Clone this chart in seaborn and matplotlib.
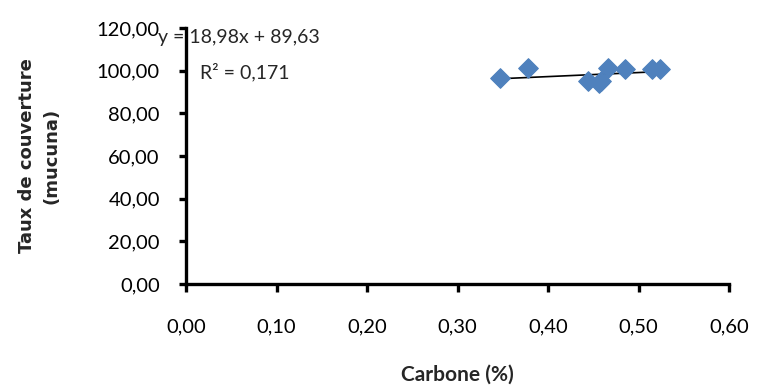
import numpy as np
import pandas as pd
import seaborn as sns
import matplotlib.pyplot as plt
from matplotlib.ticker import FuncFormatter, MultipleLocator

# Data
carbone = [0.347, 0.378, 0.444, 0.456, 0.458, 0.466, 0.485, 0.515, 0.524]
taux = [96.4, 101.4, 95.2, 94.0, 95.0, 101.4, 100.8, 101.0, 101.0]
slope = 18.98
intercept = 89.63
r2 = 0.171

df = pd.DataFrame({"Carbone": carbone, "Taux": taux})

sns.set_style("white")
plt.rcParams['font.family'] = ['Lato', 'DejaVu Sans']

fig = plt.figure(figsize=(7.57, 3.89), dpi=100)
ax = fig.add_axes([0.246, 0.270, 0.717, 0.658])

sns.scatterplot(data=df, x="Carbone", y="Taux", marker="D", s=100,
                color="#4F81BD", edgecolor="#4F81BD", ax=ax, zorder=3)

# trend line from the equation shown
trend = pd.DataFrame({"x": [min(carbone), max(carbone)]})
trend["y"] = intercept + slope * trend["x"]
sns.lineplot(data=trend, x="x", y="y", color="black", linewidth=1.2, ax=ax, zorder=2)

ax.set_xlim(0, 0.6)
ax.set_ylim(0, 120)
ax.xaxis.set_major_locator(MultipleLocator(0.1))
ax.yaxis.set_major_locator(MultipleLocator(20))
fmt = FuncFormatter(lambda v, p: f"{v:.2f}".replace(".", ","))
ax.xaxis.set_major_formatter(fmt)
ax.yaxis.set_major_formatter(fmt)

for s in ["top", "right"]:
    ax.spines[s].set_visible(False)
for s in ["left", "bottom"]:
    ax.spines[s].set_linewidth(2.4)
    ax.spines[s].set_color("black")

ax.tick_params(axis="x", direction="out", length=6, width=2.4, pad=19, labelsize=14.5, colors="black")
ax.tick_params(axis="y", direction="out", length=5, width=2.4, pad=14, labelsize=14.5, colors="black")
ax.tick_params(axis="both", bottom=True, left=True)

ax.set_xlabel("Carbone (%)", fontsize=15, fontweight="bold", labelpad=21)
ax.set_ylabel("Taux de couverture\n(mucuna)", fontsize=13, fontweight="semibold",
              labelpad=26, family="DejaVu Sans", linespacing=1.45)

ax.text(-0.031, 115.5, f"y = {slope:.2f}x + {intercept:.2f}".replace(".", ","),
        fontsize=14, va="center", ha="left")
ax.text(0.0155, 99.4, f"R² = {r2:.3f}".replace(".", ","),
        fontsize=14, va="center", ha="left")

fig.savefig("out.png", dpi=100)
